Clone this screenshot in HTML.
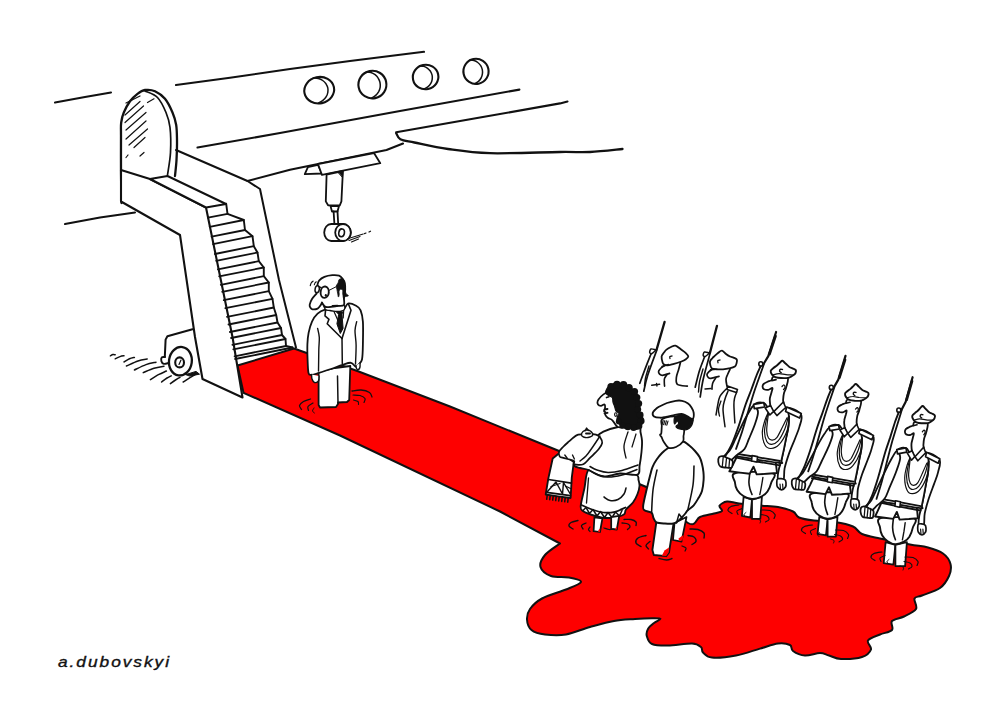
<!DOCTYPE html>
<html lang="en"><head><meta charset="utf-8"><title>Red carpet - a.dubovskyi</title>
<style>
html,body{margin:0;padding:0;background:#fff;}
body{width:1000px;height:707px;overflow:hidden;position:relative;font-family:"Liberation Sans",sans-serif;}
svg{display:block;position:absolute;left:0;top:0;}
svg path, svg ellipse, svg line{stroke-linecap:round;stroke-linejoin:round;}
.sig{position:absolute;left:58px;top:655.3px;font:italic normal 14px/1 "Liberation Sans",sans-serif;letter-spacing:1.6px;color:#111;-webkit-text-stroke:0.35px #111;white-space:nowrap;transform-origin:0 0;transform:scale(1.235,1);}
</style></head><body>
<svg width="1000" height="707" viewBox="0 0 1000 707">
<rect width="1000" height="707" fill="#fff"/>
<path d="M237.5 365.5 L294 348.5 L358 371.2 L450 406.5 L556 449.8 L650 488.5 C656.3 494.7 679.7 518.3 688 523 C696.3 527.7 695.7 518.6 700 517 C704.3 515.4 710.3 514.5 714 513.5 C717.7 512.5 721.1 512.3 722 511 C722.9 509.7 718.7 507.4 719.5 505.8 C720.3 504.2 723.8 502 727 501.6 C730.2 501.2 733.5 502.8 739 503.4 C744.5 504 753.5 504.9 760 505.5 C766.5 506.1 772.5 506 778 507 C783.5 508 789.5 509.8 793 511.5 C796.5 513.2 795.5 516 799 517.5 C802.5 519 808 519.8 814 520.5 C820 521.2 828.5 521 835 522 C841.5 523 848.5 524.5 853 526.5 C857.5 528.5 857.5 532 862 534 C866.5 536 872 536.8 880 538.5 C888 540.2 902 543 910 544.5 C918 546 922.5 546 928 547.5 C933.5 549 939.2 550.8 943 553.5 C946.8 556.2 949.5 560.2 950.5 564 C951.5 567.8 950.8 572 949 576 C947.2 580 944.5 584.8 940 588 C935.5 591.2 926.2 593.8 922 595.5 C917.8 597.2 915.5 596.2 914.5 598.5 C913.5 600.8 917.8 606 916 609 C914.2 612 908 614.5 904 616.5 C900 618.5 894 618.8 892 621 C890 623.2 894 627.8 892 630 C890 632.2 884 632.8 880 634.5 C876 636.2 869.5 638 868 640.5 C866.5 643 872 646.8 871 649.5 C870 652.2 867 655.4 862 657 C857 658.6 846.5 659.2 841 659 C835.5 658.8 832.5 656.5 829 655.5 C825.5 654.5 824 653 820 653 C816 653 809.5 655.8 805 655.5 C800.5 655.2 795.5 652.8 793 651 C790.5 649.2 792.5 646.2 790 645 C787.5 643.8 783 642.9 778 643.5 C773 644.1 767 646.6 760 648.6 C753 650.6 744 654 736 655.5 C728 657 717.5 658.1 712 657.6 C706.5 657.1 704.8 654.3 703 652.5 C701.2 650.7 702.8 648.5 701 647 C699.2 645.5 697.5 643.7 692 643.5 C686.5 643.3 674.7 645.5 668 645.6 C661.3 645.7 655.5 645.6 652 644 C648.5 642.4 647.5 638.5 646.8 636 C646.1 633.5 646.8 631.2 648 629 C649.2 626.8 651.9 624.7 654 623 C656.1 621.3 660.8 619.6 660.5 618.8 C660.2 618 656.2 618.2 652 618.2 C647.8 618.2 641.3 618.5 635 619 C628.7 619.5 621.5 619.7 614 621 C606.5 622.3 598 624.8 590 627 C582 629.2 573.5 633.2 566 634.5 C558.5 635.8 550.8 635.2 545 634.5 C539.2 633.8 534.5 632.5 531.5 630 C528.5 627.5 527.2 623 527 619.5 C526.8 616 527.5 612.5 530 609 C532.5 605.5 536 601.8 542 598.5 C548 595.2 559.5 592.2 566 589.5 C572.5 586.8 580.5 584 581 582 C581.5 580 574 578.5 569 577.5 C564 576.5 555.8 577.8 551 576 C546.2 574.2 541.5 570.5 540.5 567 C539.5 563.5 541.8 558.9 545 555 C548.2 551.1 557.5 545.4 560 543.5 L500 511.5 L340 435.5 L243.5 392.8 Z" fill="#fe0000" stroke="#111" stroke-width="2.0" />
<path d="M55 102.5 L85 97 L111 92.5" fill="none" stroke="#111" stroke-width="2.1" />
<path d="M176 85 L230 77.8 L290 69 L350 61 L424 51.8" fill="none" stroke="#111" stroke-width="2.1" />
<path d="M197.5 147.5 L280 133 L400 111 L519.4 89.6" fill="none" stroke="#111" stroke-width="2.1" />
<path d="M247.5 181 L290 169.7 L386.5 150 L403 143.6" fill="none" stroke="#111" stroke-width="2.1" />
<path d="M65 224 L100 217.5 L135 212.5" fill="none" stroke="#111" stroke-width="2.1" />
<path d="M396.2 132.2 L480 117.5 L560 103.4 L567.5 101.5" fill="none" stroke="#111" stroke-width="2.1" />
<path d="M396.2 133.2 C396.9 134.2 397.4 137.6 400.4 139.2 C403.4 140.8 406.5 140.9 414.4 142.5 C422.3 144.1 435.4 147.2 448 149 C460.6 150.8 471.3 152.7 490 153.2 C508.7 153.7 543.3 152.2 560 152 C576.7 151.8 579.6 152.5 590 152 C600.4 151.5 617.1 149.5 622.5 149" fill="none" stroke="#111" stroke-width="2.3" />
<ellipse cx="319.2" cy="90.2" rx="15" ry="13.2" fill="#fff" stroke="#111" stroke-width="2.1" transform="rotate(-12 319.2 90.2)"/>
<path d="M313.2 78 C314.1 78.1 316.7 78.1 318.3 78.5 C319.8 78.9 321.4 79.6 322.7 80.5 C324 81.4 325.1 82.6 326 83.8 C326.8 85 327.5 86.5 327.8 87.9 C328.1 89.4 328.1 91 327.8 92.5 C327.6 93.9 327 95.5 326.1 96.8 C325.3 98.1 324.2 99.4 322.9 100.4 C321.7 101.5 319.3 102.5 318.5 102.9" fill="none" stroke="#111" stroke-width="1.5" />
<ellipse cx="372.4" cy="84.6" rx="14" ry="13.8" fill="#fff" stroke="#111" stroke-width="2.1" transform="rotate(-12 372.4 84.6)"/>
<path d="M366.2 71.9 C366.9 72 369.4 72 370.9 72.5 C372.4 73 373.8 73.8 375.1 74.7 C376.3 75.7 377.4 76.9 378.2 78.2 C379.1 79.5 379.7 81 380 82.5 C380.3 84.1 380.4 85.7 380.2 87.2 C380 88.8 379.4 90.4 378.7 91.7 C377.9 93.1 376.9 94.4 375.7 95.4 C374.6 96.5 372.4 97.5 371.7 97.9" fill="none" stroke="#111" stroke-width="1.5" />
<ellipse cx="425.6" cy="77" rx="12.8" ry="12.2" fill="#fff" stroke="#111" stroke-width="2.1" transform="rotate(-12 425.6 77)"/>
<path d="M419.5 65.8 C420.2 65.9 422.4 66 423.8 66.4 C425.1 66.8 426.5 67.5 427.6 68.3 C428.7 69.1 429.7 70.2 430.5 71.3 C431.2 72.5 431.8 73.9 432.1 75.2 C432.4 76.5 432.4 78 432.2 79.3 C432 80.7 431.5 82.1 430.8 83.3 C430.1 84.5 429.2 85.7 428.1 86.6 C427 87.5 425 88.5 424.4 88.9" fill="none" stroke="#111" stroke-width="1.5" />
<ellipse cx="476" cy="71.4" rx="12.6" ry="12.6" fill="#fff" stroke="#111" stroke-width="2.1" transform="rotate(-12 476 71.4)"/>
<path d="M469.8 59.9 C470.5 60 472.7 60 474 60.5 C475.4 60.9 476.7 61.6 477.8 62.5 C478.9 63.3 479.9 64.5 480.7 65.7 C481.4 66.9 482 68.3 482.3 69.6 C482.6 71 482.6 72.5 482.4 73.9 C482.2 75.3 481.8 76.8 481.1 78 C480.4 79.2 479.5 80.4 478.5 81.4 C477.4 82.3 475.4 83.3 474.8 83.6" fill="none" stroke="#111" stroke-width="1.5" />
<path d="M304.8 174.1 L307.9 167.1 L318 164.8 L321.9 173.5Z" fill="#fff" stroke="#111" stroke-width="1.8" />
<path d="M318 164 L374 153.1 L380.3 163.2 L321.9 174.9Z" fill="#fff" stroke="#111" stroke-width="1.8" />
<path d="M326.6 174.5 L325.8 201.4 L328.1 205.3 L339.8 205.3 L341.4 201.4 L342.9 171Z" fill="#fff" stroke="#111" stroke-width="1.8" />
<path d="M338 172 L343 171 L342.5 177Z" fill="#111" stroke="#111" stroke-width="1.0" />
<path d="M330.5 206 L332 211.5 L337.5 211.5 L339 206Z" fill="#fff" stroke="#111" stroke-width="1.8" />
<path d="M333.6 211.5 L334.4 224" fill="none" stroke="#111" stroke-width="1.8" />
<path d="M337.5 211.5 L338.2 224" fill="none" stroke="#111" stroke-width="1.8" />
<path d="M331.2 224 A7 8.5 0 0 0 331.2 241 L343 241 A7.8 8.5 0 0 0 343 224 Z" fill="#fff" stroke="#111" stroke-width="1.8" />
<ellipse cx="343" cy="232.5" rx="7.8" ry="8.5" fill="#fff" stroke="#111" stroke-width="1.8"/>
<ellipse cx="341.6" cy="232.8" rx="2.8" ry="3.9" fill="#fff" stroke="#111" stroke-width="1.6" transform="rotate(10 341.6 232.8)"/>
<path d="M347.6 238.7 L363.2 234" fill="none" stroke="#111" stroke-width="1.1" />
<path d="M349 240.5 L360 236.5" fill="none" stroke="#111" stroke-width="1.1" />
<path d="M351.5 242 L358.5 239" fill="none" stroke="#111" stroke-width="1.1" />
<path d="M364.5 233.6 L366 233" fill="none" stroke="#111" stroke-width="1.2" />
<path d="M369 232 L370.5 231.2" fill="none" stroke="#111" stroke-width="1.2" />
<path d="M121.5 203 C121.4 197.5 121.1 181.3 121 170 C120.9 158.7 121 142.9 121 135 C121 127.1 120.7 126.2 121.2 122.5 C121.7 118.8 122.3 116 123.8 112.5 C125.3 109 127.7 104.3 130 101.2 C132.3 98.1 135 95.7 137.5 93.8 C140 91.9 142.1 90.4 145 90 C147.9 89.6 151.7 89.7 155 91.2 C158.3 92.7 162.1 95.2 165 98.8 C167.9 102.3 170.6 108.1 172.5 112.5 C174.4 116.9 175.4 120.4 176.2 125 C176.9 129.6 176.9 134.2 177 140 C177.1 145.8 176.8 154 176.5 160 C176.2 166 175.2 173.3 175 176" fill="none" stroke="#111" stroke-width="2.3" />
<path d="M145 91 C147.1 92.1 154 93.9 157.5 97.5 C161 101.1 163.9 107.5 166 112.5 C168.1 117.5 169.2 120.8 170 127.5 C170.8 134.2 170.9 144.6 170.5 152.5 C170.1 160.4 168 171.2 167.5 175" fill="none" stroke="#111" stroke-width="1.7" />
<path d="M126 103 L140 96" fill="none" stroke="#111" stroke-width="1.2" />
<path d="M125 115 L140 101.5" fill="none" stroke="#111" stroke-width="1.2" />
<path d="M125 122.5 L143.5 106" fill="none" stroke="#111" stroke-width="1.2" />
<path d="M126 130 L146 112.5" fill="none" stroke="#111" stroke-width="1.2" />
<path d="M126 139 L146 121" fill="none" stroke="#111" stroke-width="1.2" />
<path d="M129 145 L147.5 129" fill="none" stroke="#111" stroke-width="1.2" />
<path d="M134 147.5 L145 137.5" fill="none" stroke="#111" stroke-width="1.2" />
<path d="M126 157.5 L128 155" fill="none" stroke="#111" stroke-width="1.2" />
<path d="M140 156 L144 152.5" fill="none" stroke="#111" stroke-width="1.2" />
<path d="M147.5 102.5 L154 98.8" fill="none" stroke="#111" stroke-width="1.2" />
<path d="M176 150 L247.5 181 L260 189 L279 280 L296 347.5" fill="none" stroke="#111" stroke-width="2.0" />
<path d="M121 170 L150 179 L206 207.5 L232.5 337 L242.5 397.5 L202.5 379 L195 337 L180 235 L121 201.5Z" fill="#fff" stroke="#111" stroke-width="2.1" />
<path d="M150 179 L167.5 176 L226 204 L206 207.5Z" fill="#fff" stroke="#111" stroke-width="2.0" />
<path d="M226.2 203.8 L227.5 213.8 L243.8 220 L245 230 L252.5 236.2 L253.8 246.2 L257.5 252.5 L258.8 261.2 L263.8 267.5 L263.8 276.2 L268.8 282.5 L268.8 291.2 L272.5 298.8 L273.8 307.5 L276.2 315 L277.5 322.5 L281 328 L282 335 L285.5 339 L286 346 L292.5 347.5" fill="none" stroke="#111" stroke-width="1.9" />
<path d="M208 217.7 L227.5 213.8" fill="none" stroke="#111" stroke-width="1.8" />
<path d="M209.7 226.8 L243.8 220" fill="none" stroke="#111" stroke-width="1.8" />
<path d="M211.6 236.7 L245 230" fill="none" stroke="#111" stroke-width="1.8" />
<path d="M213 244.1 L252.5 236.2" fill="none" stroke="#111" stroke-width="1.8" />
<path d="M214.9 254 L253.8 246.2" fill="none" stroke="#111" stroke-width="1.8" />
<path d="M216.2 260.8 L257.5 252.5" fill="none" stroke="#111" stroke-width="1.8" />
<path d="M217.9 269.4 L258.8 261.2" fill="none" stroke="#111" stroke-width="1.8" />
<path d="M219.2 276.4 L263.8 267.5" fill="none" stroke="#111" stroke-width="1.8" />
<path d="M220.8 284.8 L263.8 276.2" fill="none" stroke="#111" stroke-width="1.8" />
<path d="M222.2 291.8 L268.8 282.5" fill="none" stroke="#111" stroke-width="1.8" />
<path d="M223.8 300.2 L268.8 291.2" fill="none" stroke="#111" stroke-width="1.8" />
<path d="M225.4 308.2 L272.5 298.8" fill="none" stroke="#111" stroke-width="1.8" />
<path d="M227 316.9 L273.8 307.5" fill="none" stroke="#111" stroke-width="1.8" />
<path d="M228.5 324.5 L276.2 315" fill="none" stroke="#111" stroke-width="1.8" />
<path d="M229.9 332 L277.5 322.5" fill="none" stroke="#111" stroke-width="1.8" />
<path d="M231.1 338 L281 328" fill="none" stroke="#111" stroke-width="1.8" />
<path d="M232.4 344.9 L282 335" fill="none" stroke="#111" stroke-width="1.8" />
<path d="M233.3 349.4 L285.5 339" fill="none" stroke="#111" stroke-width="1.8" />
<path d="M234.6 356.3 L286 346" fill="none" stroke="#111" stroke-width="1.8" />
<path d="M235.1 359 L292.5 347.5" fill="none" stroke="#111" stroke-width="1.8" />
<path d="M164.8 357 L165.6 339.6 L167.4 336.2 L192.5 329.2" fill="none" stroke="#111" stroke-width="2.0" />
<path d="M165 357 C164.5 357.1 162.4 356.7 161.8 357.4 C161.2 358.1 161.1 360.1 161.4 361.2 C161.7 362.3 162.6 363.5 163.8 363.8 C165 364.1 168 363.1 168.8 363" fill="none" stroke="#111" stroke-width="1.9" />
<path d="M186 374.5 L196 371.4 L199.5 374.2 L190 376Z" fill="#111" stroke="#111" stroke-width="1.0" />
<ellipse cx="180.4" cy="361.2" rx="11.4" ry="14.3" fill="#fff" stroke="#111" stroke-width="2.3" transform="rotate(8 180.4 361.2)"/>
<ellipse cx="179.6" cy="362.4" rx="4.4" ry="5" fill="#fff" stroke="#111" stroke-width="2.1"/>
<path d="M179 364.5 L181 360" fill="none" stroke="#111" stroke-width="1.2" />
<path d="M110.4 355.8 C110.8 355.6 112.2 354.8 113 354.6 C113.8 354.4 114.8 354.8 115.2 354.8" fill="none" stroke="#111" stroke-width="1.5" />
<path d="M115.2 358.8 C116 358.4 118.5 357.1 120 356.6 C121.5 356.1 123.3 355.9 124 355.8" fill="none" stroke="#111" stroke-width="1.5" />
<path d="M124 362 C124.9 361.5 127.8 359.6 129.5 358.8 C131.2 358 133.6 357.6 134.4 357.4" fill="none" stroke="#111" stroke-width="1.5" />
<path d="M126.4 366 C128.3 365.2 134.5 362.2 138 361 C141.5 359.8 145.7 359.3 147.2 359" fill="none" stroke="#111" stroke-width="1.5" />
<path d="M134.4 370 C136.3 369.1 142.4 365.9 146 364.6 C149.6 363.3 154.3 362.6 156 362.2" fill="none" stroke="#111" stroke-width="1.5" />
<path d="M143.2 372.6 C145 371.9 150.5 369.3 154 368.2 C157.5 367.1 162.3 366.5 164 366.2" fill="none" stroke="#111" stroke-width="1.5" />
<path d="M150.4 379.6 C151.8 378.7 156.3 375.8 159 374.4 C161.7 373 165.2 371.6 166.4 371" fill="none" stroke="#111" stroke-width="1.5" />
<path d="M161.6 382 C162.5 381.3 165.4 379 167 378 C168.6 377 170.5 376.2 171.2 375.8" fill="none" stroke="#111" stroke-width="1.5" />
<path d="M170.4 383.6 C171.2 383 173.9 381 175.5 380 C177.1 379 179.2 377.8 180 377.4" fill="none" stroke="#111" stroke-width="1.5" />
<path d="M183.2 382 C184.3 381.3 187.9 378.9 190 377.6 C192.1 376.3 195 374.8 196 374.2" fill="none" stroke="#111" stroke-width="1.5" />
<path d="M318.6 372 L318.6 405 L320 407.5 L336 407 L338 404 L338 402.5 L347 402 L349.2 400 L350.3 366 L335 368Z" fill="#fff" stroke="#111" stroke-width="1.8" />
<path d="M338 403 L337.5 376" fill="none" stroke="#111" stroke-width="1.5" />
<path d="M325 309.7 C322.9 310.3 319.8 311.7 317.6 313.7 C315.4 315.7 313.5 318.4 312 321.6 C310.5 324.8 309.4 329.1 308.6 332.9 C307.8 336.7 307.6 339.7 307.4 344.2 C307.2 348.7 307.4 355.2 307.6 360 C307.8 364.8 307.9 370.5 308.5 373 C309.1 375.5 309.9 374.8 311.5 374.8 C313.1 374.8 314.8 374.2 318 373.2 C321.2 372.2 326.9 370.4 331 369 C335.1 367.6 339.2 365.8 342.5 364.8 C345.8 363.8 348.8 362.5 351 362.8 C353.2 363.1 354.2 366.2 355.5 366.5 C356.8 366.8 357.4 365.7 358.5 364.5 C359.6 363.3 361.3 362.9 362 359.5 C362.7 356.1 362.8 350.5 362.9 344.2 C363 337.9 363.3 327.2 362.9 321.6 C362.5 316 361.7 313 360.6 310.3 C359.5 307.6 358.2 306.8 356.1 305.7 C354 304.6 350.2 302.9 348.2 303.5 C346.2 304.1 345.7 307.8 344 309 C342.3 310.2 340.3 310.8 338 311 C335.7 311.2 332.2 310.2 330 310 C327.8 309.8 327.1 309.1 325 309.7Z" fill="#fff" stroke="#111" stroke-width="1.8" />
<path d="M311.5 374.5 C311.6 375.2 311.5 377.7 312 379 C312.5 380.3 313.4 382.2 314.5 382.5 C315.6 382.8 317.8 382.1 318.5 381 C319.2 379.9 318.9 376.8 319 376" fill="#fff" stroke="#111" stroke-width="1.5" />
<path d="M356 365.5 C356.1 366 356.1 367.8 356.5 368.5 C356.9 369.2 357.9 369.8 358.5 369.5 C359.1 369.2 359.8 368.1 360 367 C360.2 365.9 360 363.7 360 363" fill="#fff" stroke="#111" stroke-width="1.4" />
<path d="M317.6 328.4 C317.9 329.9 319.1 333.8 319.3 337.4 C319.5 341 318.9 344.4 318.8 350 C318.7 355.6 318.6 367.5 318.5 371" fill="none" stroke="#111" stroke-width="1.4" />
<path d="M356.7 321.6 C356.4 323.1 355.1 326.7 355 330.6 C354.9 334.5 356 339.4 356.1 345 C356.2 350.6 355.6 360.8 355.5 364" fill="none" stroke="#111" stroke-width="1.4" />
<path d="M325.6 309.7 L325 315.9 L329 319.3 L327.2 323.8 L342 338.5" fill="none" stroke="#111" stroke-width="1.6" />
<path d="M348.2 303.5 L351 310.3 L342 338.5" fill="none" stroke="#111" stroke-width="1.6" />
<path d="M342 338.5 L342.3 363.5" fill="none" stroke="#111" stroke-width="1.5" />
<path d="M334 311.5 L337.5 319.5" fill="none" stroke="#111" stroke-width="1.2" />
<path d="M343.7 310.5 L343.2 318" fill="none" stroke="#111" stroke-width="1.2" />
<path d="M336.9 312 L342.5 312 L342 314.8 L343.1 328.4 L340.3 333.5 L336.9 323.8 L338.6 314.8Z" fill="#111" stroke="#111" stroke-width="1.0" />
<path d="M322.2 302 C321.8 301.2 322.9 304.2 323.5 305 C324.1 305.8 324.1 306.6 325.6 306.9 C327.1 307.2 330.2 306.8 332.3 306.6 C334.4 306.4 336.1 306.2 338 305.9 C339.9 305.6 342.9 304.4 343.9 305 C344.9 305.6 345.2 308.6 344.2 309.7 C343.2 310.8 340.4 311.4 338 311.5 C335.6 311.6 332.1 310.8 330 310.5 C327.9 310.2 326.9 310.9 325.6 309.5 C324.3 308.1 322.6 302.8 322.2 302Z" fill="#fff" stroke="#111" stroke-width="1.3" />
<path d="M317.6 288 C317.6 287.4 317.3 285.5 317.6 284.2 C317.9 282.9 318.2 281.5 319.3 280.3 C320.4 279.1 322.2 277.8 324.4 276.9 C326.6 276 329.9 275.4 332.3 275.2 C334.8 275 337.4 275.1 339.1 275.7 C340.8 276.3 341.6 277.4 342.5 278.6 C343.4 279.8 344.4 281.2 344.8 283.1 C345.2 285 345.3 287.5 345.2 290 C345.1 292.5 344.2 295.5 344 298 C343.8 300.5 344.9 303.7 343.9 305 C342.9 306.3 339.9 305.6 338 305.9 C336.1 306.2 334.4 306.4 332.3 306.6 C330.2 306.8 327.3 307.5 325.6 306.9 C323.9 306.3 322.8 303.6 322.2 303" fill="#fff" stroke="#111" stroke-width="1.8" />
<path d="M332.5 305.8 L337.5 305.5" fill="none" stroke="#111" stroke-width="1.6" />
<path d="M339.1 279.7 C339.9 278.9 341.6 278 342.5 278.6 C343.4 279.2 344.4 281.6 344.8 283.1 C345.2 284.6 344.8 285.9 345 287.6 C345.2 289.3 345.3 291.9 345.9 293.3 C346.5 294.7 348.6 295.2 348.4 295.8 C348.2 296.4 345.6 296.3 344.8 296.9 C344 297.5 344 299.7 343.7 299.2 C343.4 298.7 343 295.5 342.8 294 C342.6 292.5 343 290.8 342.6 290 C342.2 289.2 341.1 289 340.5 289.2 C339.9 289.4 339.2 290.1 339 291 C338.8 291.9 339.3 293.5 339.2 294.5 C339.1 295.5 338.7 297.2 338.4 297 C338.1 296.8 337.9 294.6 337.6 293.3 C337.4 292 337.1 290.5 336.9 289.3 C336.7 288.1 336.1 286.9 336.3 285.9 C336.5 284.9 337.5 284.1 338 283.1 C338.5 282.1 338.4 280.4 339.1 279.7Z" fill="#111" stroke="#111" stroke-width="0.8" />
<path d="M316.5 293.6 C315.8 294.5 313.1 297.2 312 299 C310.9 300.8 310 303.2 309.7 304.6 C309.4 306 309.8 306.8 310.3 307.6 C310.8 308.4 311.3 309.1 312.5 309.3 C313.7 309.5 316.3 309.2 317.6 308.6 C318.9 308 319.7 306.5 320.4 305.5 C321.1 304.5 321.7 303 322 302.5" fill="#fff" stroke="#111" stroke-width="1.8" />
<ellipse cx="317.2" cy="289.3" rx="2.1" ry="3.5" fill="#fff" stroke="#111" stroke-width="1.5" transform="rotate(10 317.2 289.3)"/>
<ellipse cx="324.7" cy="292.2" rx="4.1" ry="5.7" fill="#fff" stroke="#111" stroke-width="1.9" transform="rotate(5 324.7 292.2)"/>
<path d="M319 287 L321 287.5" fill="none" stroke="#111" stroke-width="1.3" />
<path d="M328.6 290.6 L336 286.8" fill="none" stroke="#111" stroke-width="1.0" />
<ellipse cx="325.8" cy="295.4" rx="1.1" ry="1.3" fill="#111"/>
<path d="M310.3 285.6 C310.4 285.2 310.7 283.7 311.2 283 C311.7 282.3 312.8 281.5 313.1 281.2" fill="none" stroke="#111" stroke-width="1.2" />
<path d="M314.3 284.8 C314.4 284.5 314.7 283.5 315 283 C315.3 282.5 316.1 282 316.3 281.8" fill="none" stroke="#111" stroke-width="1.1" />
<path d="M310.5 399 C309.3 399.4 305.3 400.4 303.5 401.5 C301.7 402.6 299.8 404.2 299.5 405.5 C299.2 406.8 301.2 408.8 301.5 409.5" fill="none" stroke="#111" stroke-width="1.3" />
<path d="M313 403 C312.2 403.6 308.8 405.2 308 406.5 C307.2 407.8 308.4 409.8 308.5 410.5" fill="none" stroke="#111" stroke-width="1.2" />
<path d="M314 408 C313.8 408.5 312.4 410.2 312.5 411 C312.6 411.8 314.2 412.7 314.5 413" fill="none" stroke="#111" stroke-width="1.0" />
<path d="M352 391 C353.5 390.8 358.1 389.8 361 390 C363.9 390.2 367.7 391.3 369.5 392.5 C371.3 393.7 371.6 396.2 372 397" fill="none" stroke="#111" stroke-width="1.3" />
<path d="M353 395 C354.2 395.1 358 394.9 360 395.5 C362 396.1 364.3 397.3 365 398.5 C365.7 399.7 364.2 401.8 364 402.5" fill="none" stroke="#111" stroke-width="1.2" />
<path d="M353.5 400 C354.2 400.2 357.2 400.8 358 401.5 C358.8 402.2 358.4 404 358.5 404.5" fill="none" stroke="#111" stroke-width="1.1" />
<path d="M560 452.5 L552.7 458.5 L548.3 478.6 L545.7 494.5 L558 496.3 L570.6 498 L571.8 477.3 L573.8 462Z" fill="#fff" stroke="#111" stroke-width="1.85" />
<path d="M548.6 479.5 L571.3 483.2" fill="none" stroke="#111" stroke-width="1.75" />
<path d="M546.6 492.3 L570.4 495.6" fill="none" stroke="#111" stroke-width="1.75" />
<path d="M547.5 491.5 L556 482 L562.5 494 L563.5 482.5 L570 493.5" fill="none" stroke="#111" stroke-width="1.45" />
<path d="M551 486.5 L560 483.5" fill="none" stroke="#111" stroke-width="1.25" />
<path d="M565.5 486 L570.5 488.5" fill="none" stroke="#111" stroke-width="1.25" />
<path d="M547.2 495.3 L546.7 499.3" fill="none" stroke="#111" stroke-width="1.55" />
<path d="M550.2 495.7 L549.7 499.7" fill="none" stroke="#111" stroke-width="1.55" />
<path d="M553.2 496.1 L552.7 500.1" fill="none" stroke="#111" stroke-width="1.55" />
<path d="M556.2 496.6 L555.7 500.6" fill="none" stroke="#111" stroke-width="1.55" />
<path d="M559.2 497 L558.7 501" fill="none" stroke="#111" stroke-width="1.55" />
<path d="M562.2 497.4 L561.7 501.4" fill="none" stroke="#111" stroke-width="1.55" />
<path d="M565.2 497.8 L564.7 501.8" fill="none" stroke="#111" stroke-width="1.55" />
<path d="M568.2 498.2 L567.7 502.2" fill="none" stroke="#111" stroke-width="1.55" />
<path d="M588.7 470 C585.6 472 585.8 482 584.5 488 C583.2 494 581 502.2 580.7 506 C580.5 509.8 581.1 509.5 583 511 C584.9 512.5 588.6 513.9 592 515 C595.4 516.1 599.7 517.4 603.4 517.8 C607.1 518.2 610.6 518 614 517.5 C617.4 517 621.8 515.8 623.8 514.5 C625.8 513.2 624.5 511.5 626 509.5 C627.5 507.5 631.1 505.1 633 502.5 C634.9 499.9 636.4 496.8 637.5 494 C638.6 491.2 639.3 488.3 639.5 486 C639.7 483.7 639 481.8 638.5 480 C638 478.2 639.6 476.2 636.5 475 C633.4 473.8 625.6 472.8 620 473 C614.4 473.2 608.2 476.5 603 476 C597.8 475.5 591.8 468 588.7 470Z" fill="#fff" stroke="#111" stroke-width="1.85" />
<path d="M581.5 505 C583.2 505.8 588.4 508.2 592 509.5 C595.6 510.8 599.6 512.1 603.4 512.5 C607.2 512.9 611.3 512.6 615 511.8 C618.7 511 623.8 508.2 625.5 507.5" fill="none" stroke="#111" stroke-width="1.75" />
<path d="M583 510.5 L586 507.5 L589.5 513.5 L593 509.5 L597 516 L600.5 511.5 L604.5 517.5 L608 512.5 L612 517.5 L615.5 512 L619.5 516 L622 510.5" fill="none" stroke="#111" stroke-width="1.5" />
<path d="M604 497 C605 497.6 607.7 500.1 610 500.5 C612.3 500.9 615.7 500.6 618 499.5 C620.3 498.4 622.7 495.9 624 494 C625.3 492.1 625.7 489 626 488" fill="none" stroke="#111" stroke-width="1.55" />
<path d="M588.5 478 L586.5 503" fill="none" stroke="#111" stroke-width="1.35" />
<path d="M594.4 517.5 L593.6 531.2 L600 532 L602.4 518.4Z" fill="#fff" stroke="#111" stroke-width="1.75" />
<path d="M611.2 517.2 L611.2 528.8 L616.8 529.6 L619.2 515.8Z" fill="#fff" stroke="#111" stroke-width="1.75" />
<path d="M598.5 530 L600.2 528.5 L600 532 L598 531.8Z" fill="#fe0000" stroke="none" stroke-width="0" />
<path d="M615.5 528 L617.2 526.5 L616.8 529.6 L615 529.4Z" fill="#fe0000" stroke="none" stroke-width="0" />
<path d="M618 427 C613.6 427.9 607.4 429.7 603.4 431.6 C599.4 433.5 597.4 435.5 594.3 438.4 C591.2 441.3 587.9 445.7 585 449 C582.1 452.3 578.8 455.8 577 458 C575.2 460.2 574.4 460.7 574 462 C573.6 463.3 573.5 465 574.5 466 C575.5 467 577.6 467.3 580 468 C582.4 468.7 584.9 468.6 588.7 470 C592.5 471.4 597.8 475.9 603 476.5 C608.2 477.1 614.3 473.8 620 473.5 C625.7 473.2 634.1 475.9 637.4 474.6 C640.7 473.3 638.9 469.3 639.6 465.5 C640.3 461.7 641.1 456.1 641.5 452 C641.9 447.9 642.2 443.9 642 440.6 C641.8 437.3 640.9 434.3 640.5 432 C640.1 429.7 641.4 427.9 639.6 427 C637.9 426.1 633.6 426.5 630 426.5 C626.4 426.5 622.4 426.1 618 427Z" fill="#fff" stroke="#111" stroke-width="1.85" />
<path d="M588.7 470 C589.9 470.7 592.8 472.8 596 474 C599.2 475.2 603.6 476.8 607.9 477 C612.2 477.2 617.1 476.2 622 475 C626.9 473.8 634.5 470.4 637 469.5" fill="none" stroke="#111" stroke-width="1.55" />
<path d="M590 466.5 C591.2 467.1 594 469 597 470 C600 471 603.8 472.4 608 472.5 C612.2 472.6 617 471.8 622 470.5 C627 469.2 635.3 465.9 638 465" fill="none" stroke="#111" stroke-width="1.55" />
<path d="M559.1 451.8 C559.7 450.1 561.9 448.2 563.5 446.5 C565.1 444.8 567 443.2 568.7 441.7 C570.4 440.2 571.9 438.7 573.5 437.5 C575.1 436.3 576.1 435.2 578.2 434.6 C580.3 434 583 434 586 434 C589 434 593.6 433.9 596 434.6 C598.4 435.3 599.5 436.6 600.5 438 C601.5 439.4 602.5 441 602.2 442.9 C601.9 444.8 600.7 446.8 598.6 449.3 C596.5 451.9 592.2 455.7 589.7 458.2 C587.2 460.7 585.8 463.2 583.3 464.2 C580.8 465.2 576 464.8 574.4 464.2 C572.8 463.6 575.5 461.8 573.8 460.8 C572.1 459.8 566.6 458.9 564.2 458.2 C561.9 457.5 560.6 457.6 559.7 456.5 C558.9 455.4 558.5 453.5 559.1 451.8Z" fill="#fff" stroke="#111" stroke-width="1.75" />
<path d="M564.8 455 L567.4 458.4" fill="none" stroke="#111" stroke-width="1.35" />
<path d="M572.5 455 L574.4 459" fill="none" stroke="#111" stroke-width="1.35" />
<path d="M581.5 435 C581.4 434.1 582.1 432.3 583 431.5 C583.9 430.7 585.7 430 587 430 C588.3 430 590.1 430.6 591 431.5 C591.9 432.4 593 434.5 592.5 435.5 C592 436.5 589.5 437.2 588 437.5 C586.5 437.8 584.6 437.4 583.5 437 C582.4 436.6 581.6 435.9 581.5 435Z" fill="#fff" stroke="#111" stroke-width="1.45" />
<path d="M585 431 L586.5 428 L588.5 430.5" fill="none" stroke="#111" stroke-width="1.25" />
<path d="M586 433.5 L590 433.5" fill="none" stroke="#111" stroke-width="1.85" />
<path d="M600 436 C598.7 438 594.3 444.7 592 448 C589.7 451.3 588 453.8 586 456 C584 458.2 581 460.2 580 461" fill="none" stroke="#111" stroke-width="1.45" />
<path d="M628 432 C627.3 434.3 624.3 441.7 624 446 C623.7 450.3 625.7 456 626 458" fill="none" stroke="#111" stroke-width="1.35" />
<path d="M636 434 L632 447" fill="none" stroke="#111" stroke-width="1.25" />
<path d="M605.6 393 C603.8 393.8 602.3 395.2 601 396.5 C599.7 397.8 598.2 399.7 597.7 401 C597.2 402.3 597.5 403.7 598 404.5 C598.5 405.3 599.9 405.8 601 405.8 C602.1 405.8 603.8 403.9 604.5 404.4 C605.2 404.8 605.1 407.4 605 408.5 C604.9 409.6 603.9 410.4 604 411 C604.1 411.6 605.4 411.8 605.6 412.4 C605.8 413 604.8 413.7 605.2 414.6 C605.6 415.5 606.8 417.1 608 418 C609.2 418.9 610.7 418.8 612.4 420.3 C614.1 421.8 615.7 426.4 618 427 C620.3 427.6 625.3 428.5 626 424 C626.7 419.5 624.3 405.3 622 400 C619.7 394.7 614.7 393.2 612 392 C609.3 390.8 607.4 392.2 605.6 393Z" fill="#fff" stroke="#111" stroke-width="1.75" />
<path d="M604.5 409.5 L607.5 409" fill="none" stroke="#111" stroke-width="1.85" />
<path d="M604.5 413.3 L607.5 412.8" fill="none" stroke="#111" stroke-width="1.85" />
<path d="M605.6 393 C605.3 391.8 606.3 389.7 607 388.5 C607.7 387.3 608.7 386.9 610 386 C611.3 385.1 613.1 383.6 615 383.2 C616.9 382.8 619.7 383.2 621.5 383.5 C623.3 383.8 624.5 384.3 626 385.2 C627.5 386.1 629 387.7 630.5 388.6 C632 389.5 633.8 389.4 635 390.5 C636.2 391.6 637 393.4 637.5 395 C638 396.6 637.7 398.4 638.2 400 C638.7 401.6 640.6 402.9 640.6 404.4 C640.6 405.9 638.6 407.5 638.5 409 C638.4 410.5 639.3 412.2 640 413.5 C640.7 414.8 642 415.8 642.5 417 C643 418.2 643.2 419.7 643 421 C642.8 422.3 642.1 423.8 641.5 425 C640.9 426.2 640.7 427.2 639.6 428 C638.5 428.8 636.5 429.5 635 429.5 C633.5 429.5 632 428.3 630.5 428.2 C629 428.1 627.5 429.2 626 428.8 C624.5 428.4 622.8 427 621.5 426 C620.2 425 619.2 424 618.5 423 C617.8 422 617.2 421.1 617 420 C616.8 418.9 617.2 417.6 617.5 416.5 C617.8 415.4 619.2 414.4 619 413.5 C618.8 412.6 616.7 412.1 616 411 C615.3 409.9 615.2 408.2 614.7 406.7 C614.2 405.2 613.4 403.5 613 402 C612.6 400.5 613.1 398.7 612.4 397.6 C611.7 396.5 610.1 396.4 609 395.6 C607.9 394.8 605.9 394.2 605.6 393Z" fill="#111" stroke="#111" stroke-width="1.25" />
<circle cx="611" cy="386.5" r="3.6" fill="#111"/>
<circle cx="617" cy="384.5" r="3.8" fill="#111"/>
<circle cx="623.5" cy="384.8" r="3.8" fill="#111"/>
<circle cx="629" cy="387.8" r="3.8" fill="#111"/>
<circle cx="634.5" cy="391.5" r="3.6" fill="#111"/>
<circle cx="636.8" cy="397.5" r="3.6" fill="#111"/>
<circle cx="638.6" cy="403.5" r="3.6" fill="#111"/>
<circle cx="637.8" cy="409.5" r="3.4" fill="#111"/>
<circle cx="640.2" cy="415" r="3.4" fill="#111"/>
<circle cx="641.2" cy="421" r="3.4" fill="#111"/>
<circle cx="639" cy="426" r="3.4" fill="#111"/>
<circle cx="633.5" cy="427.5" r="3.4" fill="#111"/>
<circle cx="628" cy="427" r="3.2" fill="#111"/>
<circle cx="622.5" cy="425.5" r="3.2" fill="#111"/>
<circle cx="618.8" cy="421.5" r="3" fill="#111"/>
<ellipse cx="615.8" cy="414.5" rx="1.2" ry="1.8" fill="#fff" stroke="#111" stroke-width="1.15"/>
<path d="M606.5 397.6 L609 396.8" fill="none" stroke="#111" stroke-width="1.55" />
<path d="M578 520.5 C576.8 520.8 572.5 521.6 571 522.5 C569.5 523.4 568.7 524.9 569 526 C569.3 527.1 572.3 528.5 573 529" fill="none" stroke="#111" stroke-width="1.35" />
<path d="M586 523 C585.2 523.4 582 524.5 581.5 525.5 C581 526.5 582.8 528.4 583 529" fill="none" stroke="#111" stroke-width="1.35" />
<path d="M590 527 C589.8 527.4 588.5 528.8 588.5 529.5 C588.5 530.2 589.8 531.2 590 531.5" fill="none" stroke="#111" stroke-width="1.25" />
<path d="M624 519.5 C625.2 519.5 629 519.1 631 519.5 C633 519.9 635.2 521 636 522 C636.8 523 636 524.9 636 525.5" fill="none" stroke="#111" stroke-width="1.35" />
<path d="M622 523 C623 523.2 626.7 523.3 628 524 C629.3 524.7 630.1 526.1 630 527 C629.9 527.9 627.9 529.1 627.5 529.5" fill="none" stroke="#111" stroke-width="1.35" />
<path d="M604 528 C604.8 528.2 607.3 529.3 609 529.5 C610.7 529.7 613.2 529.1 614 529" fill="none" stroke="#111" stroke-width="1.25" />
<path d="M656.5 521 L652.4 550 L653.8 555 L666.2 556.2 L669 552.5 L673.8 522Z" fill="#fff" stroke="#111" stroke-width="1.85" />
<path d="M674.5 523 L673 540 L681.5 541.6 L686.5 517Z" fill="#fff" stroke="#111" stroke-width="1.75" />
<path d="M668.5 447.7 C666.2 449.2 664 451 662 453 C660 455 658.1 457.4 656.5 459.7 C654.9 462 653.5 464.6 652.5 467 C651.5 469.4 651.4 470.4 650.4 474.2 C649.4 478 647.7 484.8 646.5 490 C645.3 495.2 643.6 502 643.2 505.4 C642.9 508.8 643 509.1 644.4 510.3 C645.8 511.5 650.1 511.4 651.6 512.7 C653.1 514 652.7 516.4 653.5 518 C654.3 519.6 654.6 521.4 656.5 522.3 C658.4 523.2 662.2 523.3 665 523.5 C667.8 523.7 671.1 523.9 673.3 523.5 C675.5 523.1 676.6 522 678 521 C679.4 520 680.5 518.8 681.7 517.5 C682.9 516.2 684.3 514.7 685.3 513.5 C686.3 512.3 686.3 511.7 687.7 510.3 C689.1 508.9 691.9 507.4 693.7 505.4 C695.5 503.3 697.1 500.4 698.5 498 C699.9 495.6 701.1 494 702 491 C702.9 488 703.4 483.2 703.6 480 C703.8 476.8 703.7 474.5 703.4 471.8 C703.1 469.1 702.6 466.4 702 464 C701.4 461.6 700.9 459.5 699.7 457.3 C698.5 455.1 696.8 453 695 451 C693.2 449 691 446.9 689 445.3 C687 443.7 685.2 441.7 683 441.5 C680.8 441.3 678.4 443 676 444 C673.6 445 670.8 446.2 668.5 447.7Z" fill="#fff" stroke="#111" stroke-width="1.95" />
<path d="M657 470 C656.3 473.3 653.9 482.9 653 490 C652.1 497.1 651.8 508.9 651.6 512.7" fill="none" stroke="#111" stroke-width="1.55" />
<path d="M694 466 C693.8 469.2 694 477.6 693 485 C692 492.4 688.6 506.1 687.7 510.3" fill="none" stroke="#111" stroke-width="1.55" />
<path d="M676.5 523 L679 514 L681.7 517.5" fill="none" stroke="#111" stroke-width="1.45" />
<path d="M662.5 418.9 C659.8 420.4 662 423.6 661.8 426 C661.6 428.4 661.6 431.8 661.3 433.3 C661 434.8 660 434.2 660 434.8 C660 435.4 660.9 435.9 661.5 437 C662.1 438.1 662.5 439.9 663.7 441.7 C664.9 443.5 666.5 446.8 668.5 447.7 C670.5 448.6 673.6 448 676 447 C678.4 446 681.8 443.3 683 441.5 C684.2 439.7 683.3 438.1 683.5 436 C683.7 433.9 684.9 432.2 684 429 C683.1 425.8 681.6 418.7 678 417 C674.4 415.3 665.2 417.4 662.5 418.9Z" fill="#fff" stroke="#111" stroke-width="1.75" />
<path d="M674.5 417.7 C675.1 416.3 676.8 416.1 678 415.5 C679.2 414.9 680 413.9 681.7 414 C683.4 414.1 686.1 415.2 688 416 C689.9 416.8 692.2 417.7 693 418.9 C693.8 420.1 692.8 421.8 692.5 423 C692.2 424.2 691.9 425.1 691.3 426 C690.7 426.9 689.8 427.9 689 428.5 C688.2 429.1 687.7 429.5 686.5 429.7 C685.3 429.9 683.4 429.7 682 429.5 C680.6 429.3 679 429 678 428.5 C677 428 675.9 427.2 676 426.5 C676.1 425.8 678.2 424.9 678.5 424 C678.8 423.1 678.2 421.1 677.5 421 C676.8 420.9 675 424.2 674.5 423.7 C674 423.1 673.9 419.1 674.5 417.7Z" fill="#111" stroke="#111" stroke-width="1.25" />
<path d="M652.8 412.8 C653 411.6 654.5 410.3 655.5 409.3 C656.5 408.3 657 407.9 658.9 406.8 C660.8 405.8 664.2 404 667 403 C669.8 402 673.2 401.2 675.7 400.8 C678.2 400.4 680 400.4 682 400.8 C684 401.2 686.1 402.1 687.7 403.2 C689.3 404.3 690.5 405.9 691.5 407.5 C692.5 409.1 693.5 410.9 693.7 412.8 C693.9 414.7 693.6 418.4 692.5 418.9 C691.4 419.4 688.8 416.8 687 416 C685.2 415.2 684 414.1 681.7 414 C679.4 413.9 675.9 414.8 673.3 415.3 C670.7 415.8 668.2 416.4 666 416.8 C663.8 417.2 662 417.8 660 417.7 C658 417.6 655.2 417.3 654 416.5 C652.8 415.7 652.5 414 652.8 412.8Z" fill="#fff" stroke="#111" stroke-width="1.85" />
<path d="M663.2 420.5 L662 424.5" fill="none" stroke="#111" stroke-width="1.15" />
<path d="M664.8 420.7 L663.6 424.7" fill="none" stroke="#111" stroke-width="1.15" />
<path d="M666.4 420.9 L665.2 424.9" fill="none" stroke="#111" stroke-width="1.15" />
<path d="M668 421.1 L666.8 425.1" fill="none" stroke="#111" stroke-width="1.15" />
<path d="M646 535.5 C644.7 535.9 639.7 536.8 638 538 C636.3 539.2 635.5 541.6 636 543 C636.5 544.4 640.2 545.9 641 546.5" fill="none" stroke="#111" stroke-width="1.45" />
<path d="M650 541.5 C649.3 542.2 646.2 544.2 646 545.5 C645.8 546.8 648.1 548.4 648.5 549" fill="none" stroke="#111" stroke-width="1.35" />
<path d="M659 558.5 C660.2 558.8 664.3 560 666.5 560 C668.7 560 671.1 558.8 672 558.5" fill="none" stroke="#111" stroke-width="1.35" />
<path d="M690 529 C691.3 529.1 695.7 528.8 698 529.5 C700.3 530.2 703 531.6 704 533 C705 534.4 704 537.2 704 538" fill="none" stroke="#111" stroke-width="1.45" />
<path d="M688 535.5 C689 535.8 692.7 536 694 537 C695.3 538 696.3 540.2 696 541.5 C695.7 542.8 692.7 544 692 544.5" fill="none" stroke="#111" stroke-width="1.35" />
<path d="M682 546 C682.7 546.3 685.5 547.2 686 548 C686.5 548.8 685.2 550.5 685 551" fill="none" stroke="#111" stroke-width="1.25" />
<path d="M664.5 550.5 L669 547.5 L668.6 552.5 L666.2 556 L661.8 555.8Z" fill="#fe0000" stroke="none" stroke-width="0" />
<path d="M678.5 538.5 L683.5 535 L682.5 540.5 L679 541Z" fill="#fe0000" stroke="none" stroke-width="0" />
<path d="M664.6 321.9 L656.6 349.6" fill="none" stroke="#111" stroke-width="2.3" />
<path d="M656.6 349.6 C655.8 350.2 653.1 353 652 353.5 C650.9 354 649.9 353.4 649.7 352.6 C649.5 351.9 650 349.5 651 349 C652 348.5 654.8 349.7 655.5 349.8" fill="none" stroke="#111" stroke-width="1.5" />
<path d="M651 354 C650.1 356.2 647.6 362.5 645.7 367.4 C643.8 372.3 640.8 380.6 639.8 383.3" fill="none" stroke="#111" stroke-width="1.7" />
<path d="M656.6 350.6 C655.1 354.7 649.8 368.5 647.7 375.3 C645.6 382.1 644.4 388.6 643.8 391.2" fill="none" stroke="#111" stroke-width="1.7" />
<path d="M649 366 C648.4 368 646.2 374.7 645.5 378 C644.8 381.3 644.7 384.7 644.5 386" fill="none" stroke="#111" stroke-width="1.4" />
<path d="M661.6 356.5 C661.8 354.8 663.2 353.6 664 352.5 C664.8 351.4 665.3 350.5 666.5 349.6 C667.7 348.7 669.5 347.7 671 347 C672.5 346.3 673.8 345.3 675.4 345.6 C677 345.9 678.9 347.8 680.5 349 C682.1 350.2 684 351.4 685.3 352.6 C686.6 353.9 688.3 355.4 688.3 356.5 C688.3 357.6 686.6 358.7 685.5 359.5 C684.4 360.3 683.3 360.8 681.4 361.5 C679.5 362.2 676.3 363.2 674 363.8 C671.7 364.4 669.1 365.3 667.5 365.4 C665.9 365.5 665 365.1 664.2 364.6 C663.4 364.1 663 363.9 662.6 362.5 C662.2 361.1 661.4 358.2 661.6 356.5Z" fill="#fff" stroke="#111" stroke-width="1.8" />
<path d="M672 356 C671.6 356.1 670.1 356.2 669.8 356.6 C669.5 357 670 358.3 670 358.6" fill="none" stroke="#111" stroke-width="1.3" />
<path d="M664.6 365.4 C664 365.8 662 367 661 368 C660 369 658.8 370.4 658.6 371.4 C658.4 372.4 658.9 373.5 659.6 374.2 C660.3 374.9 661 375.4 662.6 375.3 C664.2 375.2 668.4 373.7 669.5 373.4" fill="none" stroke="#111" stroke-width="1.7" />
<path d="M662 366.5 L668.5 364.5" fill="none" stroke="#111" stroke-width="1.5" />
<path d="M667 374.5 C666.6 375.1 665.1 377.1 664.6 378.3 C664.1 379.6 664.3 380.7 664.3 382 C664.3 383.3 664.5 385.5 664.6 386.2" fill="none" stroke="#111" stroke-width="1.6" />
<path d="M680.4 362.5 C680.1 363.8 679.2 367.5 678.5 370 C677.8 372.5 676.6 374.9 676.4 377.3 C676.2 379.7 675.6 382.8 677.4 384.3 C679.2 385.8 685.6 385.9 687.3 386.2" fill="none" stroke="#111" stroke-width="1.7" />
<path d="M651.7 385.2 L659.6 384.3" fill="none" stroke="#111" stroke-width="1.5" />
<path d="M656.5 383.5 L657 386" fill="none" stroke="#111" stroke-width="1.3" />
<path d="M717 325.8 L710 352.6" fill="none" stroke="#111" stroke-width="2.3" />
<path d="M710 352.6 C709.2 353.2 706.6 355.9 705.5 356.4 C704.4 356.9 703.4 356.2 703.2 355.5 C703 354.8 703.5 352.4 704.5 352 C705.5 351.6 708.2 352.7 709 352.8" fill="none" stroke="#111" stroke-width="1.5" />
<path d="M704.5 357 C703.6 359.4 700.8 366.4 699.2 371.4 C697.7 376.4 695.9 384.6 695.2 387.2" fill="none" stroke="#111" stroke-width="1.7" />
<path d="M710 353.6 C708.9 357.9 704.8 372.1 703.2 379.3 C701.6 386.5 700.7 394.1 700.2 397" fill="none" stroke="#111" stroke-width="1.7" />
<path d="M703 369 C702.4 371.2 700.2 378.2 699.5 382 C698.8 385.8 698.7 390.3 698.5 392" fill="none" stroke="#111" stroke-width="1.4" />
<path d="M710 361.5 C710.3 360.4 711.3 359.4 712 358.6 C712.7 357.8 713 357.4 714 356.5 C715 355.6 716.7 354 718 353 C719.3 352 720.7 350.4 722 350.6 C723.3 350.8 724.7 353 726 354 C727.3 355 728.8 355.9 730 356.5 C731.2 357.1 732.4 357.1 733.5 357.6 C734.6 358.1 736.3 358.6 736.8 359.5 C737.3 360.4 736.9 361.9 736.6 363 C736.3 364.1 736.2 365.5 734.9 366.4 C733.6 367.3 731 367.9 729 368.4 C727 368.9 725 369.2 723 369.4 C721 369.5 718.8 369.5 717 369.3 C715.2 369.1 713.1 369.1 712 368.4 C710.9 367.7 710.6 366.1 710.3 365 C710 363.9 709.7 362.6 710 361.5Z" fill="#fff" stroke="#111" stroke-width="1.8" />
<path d="M720 360 C719.6 360.1 718.1 360.1 717.8 360.6 C717.5 361.1 718 362.4 718 362.8" fill="none" stroke="#111" stroke-width="1.3" />
<path d="M712 369.4 C711.5 369.8 709.8 370.8 709 371.6 C708.2 372.4 707.1 373.4 707 374.4 C706.9 375.4 707.5 376.8 708.2 377.4 C708.9 378 709.2 378.5 711 378.3 C712.8 378.1 717.7 376.6 719 376.3" fill="none" stroke="#111" stroke-width="1.7" />
<path d="M710.5 369.8 L717 369.3" fill="none" stroke="#111" stroke-width="1.5" />
<path d="M716 377.5 C715.5 378.3 713.6 381 713 382.3 C712.4 383.6 712.4 384.4 712.2 385.5 C712 386.6 712 388.6 712 389.2" fill="none" stroke="#111" stroke-width="1.6" />
<path d="M730 369.4 C729.6 370.2 728.3 372.9 727.6 374.5 C726.9 376.1 726.1 377.4 726 379.3 C725.9 381.2 726.8 385.1 727 386.2" fill="none" stroke="#111" stroke-width="1.7" />
<path d="M727.5 386 L737.5 389.5 L736.4 392.5 L727 389.5Z" fill="#fff" stroke="#111" stroke-width="1.5" />
<path d="M705 389 L711 388.5" fill="none" stroke="#111" stroke-width="1.4" />
<path d="M727 388.2 C726.2 389.1 723.3 391.7 722 393.5 C720.7 395.3 720 395.4 719 399 C718 402.6 716.5 412.3 716 415" fill="none" stroke="#111" stroke-width="1.5" />
<path d="M728 391.2 C727.5 392.5 725.8 396 725 399 C724.2 402 723 404.4 723 409 C723 413.6 724.7 423.8 725 426.8" fill="none" stroke="#111" stroke-width="1.5" />
<path d="M736.8 392 C736.4 393 735.1 395.8 734.6 398 C734.1 400.2 733.9 400.9 733.9 405 C733.9 409.1 734.7 419.9 734.9 422.9" fill="none" stroke="#111" stroke-width="1.5" />
<path d="M721 401 C720.6 402.3 718.8 406.5 718.5 409 C718.2 411.5 719.3 414.8 719.5 416" fill="none" stroke="#111" stroke-width="1.3" />
<path d="M743.6 497 L741.9 515.9 L750.3 517.5 L752 499.6Z" fill="#fff" stroke="#111" stroke-width="1.8" />
<path d="M752 499.6 L752 518.9 L760.3 518.9 L761.9 497Z" fill="#fff" stroke="#111" stroke-width="1.8" />
<path d="M735.7 473 C729.5 474.5 734.6 479.4 734.9 482.2 C735.1 485 735.8 487.7 737.2 490 C738.6 492.3 740.9 494.5 743.4 496 C745.9 497.5 749 498.9 752 499 C755 499.1 758.9 497.8 761.5 496.5 C764.1 495.2 765.9 493.9 767.5 491.5 C769.1 489.1 770.6 485.3 771.4 482.2 C772.2 479.1 778.2 474.5 772.2 473 C766.2 471.5 741.9 471.5 735.7 473Z" fill="#fff" stroke="#111" stroke-width="1.9" />
<path d="M749.7 474 C749.6 475.4 748.9 479.7 748.9 482.2 C748.9 484.7 749.5 486.9 750 489 C750.5 491.1 751.7 493.6 752 494.5" fill="none" stroke="#111" stroke-width="1.6" />
<path d="M762.9 477.5 C762.7 478.9 762 483.1 761.5 486 C761 488.9 760.1 493.2 759.8 494.6" fill="none" stroke="#111" stroke-width="1.4" />
<path d="M786.5 408 C788.6 406.2 798.9 411.4 801 414.5 C803.1 417.6 800.4 422.9 799.4 426.9 C798.4 430.9 796.7 434.2 795 438.7 C793.3 443.1 790.7 448.7 789 453.6 C787.3 458.6 785.5 464 784.6 468.4 C783.7 472.8 784.6 478.2 783.5 480 C782.4 481.8 778.8 480.7 778 479 C777.2 477.3 778.1 473.2 778.7 470 C779.3 466.8 780.4 464.7 781.6 459.5 C782.8 454.3 784.9 444.4 786 438.7 C787.1 432.9 788.4 430.1 788.5 425 C788.6 419.9 784.4 409.8 786.5 408Z" fill="#fff" stroke="#111" stroke-width="1.8" />
<path d="M777.8 478.8 C776.5 479.4 776.8 481.6 776.8 483 C776.8 484.4 776.7 485.9 777.5 487 C778.3 488.1 780.3 489.8 781.6 489.8 C782.9 489.8 784.8 488.1 785.5 487 C786.2 485.9 786.1 484.2 786 483 C785.9 481.8 786 480.2 784.6 479.5 C783.2 478.8 779.1 478.2 777.8 478.8Z" fill="#fff" stroke="#111" stroke-width="1.7" />
<path d="M780 484 L780.5 489" fill="none" stroke="#111" stroke-width="1.2" />
<path d="M782.6 484 L783 489" fill="none" stroke="#111" stroke-width="1.2" />
<path d="M737.2 456 L733 464.5 L729.4 471.3 L740 472.6 L749.7 473.7 L753.5 466.7 L756.7 474.4 L767 473.8 L777 473 L776.2 466 L775.3 459Z" fill="#fff" stroke="#111" stroke-width="1.9" />
<path d="M754 405 C756.3 402.2 761.3 402.3 764 403 C766.7 403.7 766.3 408.2 770 409 C773.7 409.8 782.8 406 786 408 C789.2 410 789 415.9 789 421 C789 426.1 787.2 432.3 786 438.7 C784.8 445.1 782.6 455.4 781.6 459.5 C780.6 463.6 784.7 463.1 780 463 C775.3 462.9 760.8 460.2 753.4 459 C746 457.8 738.2 457 735.6 455.5 C733 454 736.5 453.2 738 450 C739.5 446.8 742.5 441 744.5 436 C746.5 431 748.4 425.2 750 420 C751.6 414.8 751.7 407.8 754 405Z" fill="#fff" stroke="#111" stroke-width="1.8" />
<path d="M735.6 453.6 L753.4 456.5 L780 461" fill="none" stroke="#111" stroke-width="1.8" />
<path d="M735 457.3 L753.4 461 L780 465.3" fill="none" stroke="#111" stroke-width="1.8" />
<path d="M752 455.6 L757.5 456.6 L757 462 L751.6 461Z" fill="#fff" stroke="#111" stroke-width="1.6" />
<path d="M769.5 410 C768.8 411.7 766.2 416.2 765 420 C763.8 423.8 762.3 428.6 762.3 432.8 C762.3 437 763.5 442.4 765 445 C766.5 447.6 768.7 448.6 771 448.5 C773.3 448.4 776.3 447.6 779 444.7 C781.7 441.8 785.2 435.8 787 431 C788.8 426.2 789.1 418.5 789.5 416" fill="none" stroke="#111" stroke-width="1.2" />
<path d="M769.2 410.5 C768.7 412.1 767.1 416.5 766.3 420 C765.5 423.5 764.4 428.2 764.5 431.8 C764.6 435.3 765.6 439.4 766.8 441.5 C768 443.6 769.8 444.4 771.7 444.3 C773.5 444.2 775.7 443.8 777.9 441.2 C780.1 438.6 783.1 432.9 784.8 428.9 C786.5 424.9 787.6 419 788.2 417" fill="none" stroke="#111" stroke-width="1.2" />
<path d="M768.9 411 C768.7 412.5 768 416.7 767.6 420 C767.3 423.3 766.6 427.7 766.7 430.7 C766.8 433.7 767.6 436.4 768.5 438 C769.5 439.6 770.9 440.2 772.3 440.1 C773.7 440.1 775.1 439.9 776.8 437.7 C778.5 435.5 780.9 430.1 782.6 426.8 C784.3 423.5 786.1 419.5 786.9 418" fill="none" stroke="#111" stroke-width="1.2" />
<path d="M753.6 406 C752.1 406 750.5 409.7 749 412 C747.5 414.3 746.7 415.6 744.5 420 C742.3 424.4 738.1 433.6 735.6 438.7 C733.1 443.8 731.8 447.5 729.7 450.6 C727.6 453.7 723.3 455.6 723 457.5 C722.7 459.4 725.7 462.4 728 462 C730.3 461.6 734.2 457.2 737 455 C739.8 452.8 742.5 451.7 744.5 449 C746.5 446.3 747.2 442.9 749 438.7 C750.8 434.5 753.5 428.4 755 424 C756.5 419.6 758.2 415 758 412 C757.8 409 755.1 406 753.6 406Z" fill="#fff" stroke="#111" stroke-width="1.8" />
<path d="M776.1 332 L768.3 356.1 L764 363.2" fill="none" stroke="#111" stroke-width="2.2" />
<path d="M775.5 336 L769.5 354" fill="none" stroke="#111" stroke-width="2.7" />
<ellipse cx="760.8" cy="364" rx="2" ry="2.2" fill="#fff" stroke="#111" stroke-width="1.6"/>
<path d="M760.6 366.2 C760 367.7 758.3 371 756.7 375 C755.1 379 753 385.2 751.2 390 C749.4 394.8 748 397.7 745.8 404 C743.6 410.3 740.5 421 738 428 C735.5 435 733.3 441 731 446 C728.7 451 725.2 456 724 458" fill="none" stroke="#111" stroke-width="1.9" />
<path d="M764 364 C763.2 366.3 760.7 373.1 759 378 C757.3 382.9 755.4 387.8 753.6 393.5 C751.8 399.2 749.9 405.6 748 412 C746.1 418.4 744 425.8 742 432 C740 438.2 737 446.2 736 449" fill="none" stroke="#111" stroke-width="1.8" />
<path d="M719 457.3 C719.7 456.3 721.1 456 722.5 456.1 C723.9 456.2 725.9 457.2 727.5 458 C729.1 458.8 731.5 459.5 732.4 460.6 C733.2 461.7 732.8 463.3 732.6 464.5 C732.4 465.7 732.4 467.2 731.3 467.7 C730.2 468.2 727.8 467.8 726 467.6 C724.2 467.4 721.7 467.5 720.4 466.6 C719.1 465.7 718.5 463.6 718.3 462 C718.1 460.4 718.3 458.3 719 457.3Z" fill="#fff" stroke="#111" stroke-width="1.8" />
<path d="M723.2 457.2 L722.3 466.5" fill="none" stroke="#111" stroke-width="1.3" />
<path d="M726.5 458.3 L725.6 467.1" fill="none" stroke="#111" stroke-width="1.3" />
<path d="M729.6 459.5 L728.9 467.7" fill="none" stroke="#111" stroke-width="1.3" />
<path d="M753.6 404.4 L763.7 402.6 L764.7 407 L754.3 408.6Z" fill="#fff" stroke="#111" stroke-width="1.7" />
<path d="M786.6 407 L801.3 413.5 L799.6 418 L785.6 411.6Z" fill="#fff" stroke="#111" stroke-width="1.7" />
<path d="M773 377 C771.6 377.7 772.4 379.4 771.5 380.2 C770.6 381 768.9 381.2 767.6 381.8 C766.3 382.4 764.4 383.2 763.6 384 C762.8 384.8 762.5 385.9 762.6 386.8 C762.7 387.7 763 388.7 764 389.2 C765 389.7 766.9 390 768.3 389.8 C769.7 389.6 771.8 387.6 772.4 388 C773 388.4 772 390.3 771.6 392 C771.2 393.7 770.2 396.3 769.9 398.1 C769.6 399.9 769.9 401.6 770 403 C770.1 404.4 770.1 405.1 770.7 406.5 C771.3 407.9 772.4 411 773.8 411.6 C775.2 412.2 777.4 411.3 779 410 C780.6 408.7 782.8 405.7 783.5 404 C784.2 402.3 783 401.8 783.1 400 C783.2 398.2 783.4 395.6 783.9 393.5 C784.4 391.4 785.6 389.8 786.2 387.2 C786.9 384.6 788.8 379.8 787.8 377.9 C786.8 376 782.5 376.1 780 376 C777.5 375.9 774.4 376.3 773 377Z" fill="#fff" stroke="#111" stroke-width="1.8" />
<path d="M782 386.5 C782.3 386.2 783.5 384.8 784 385 C784.5 385.2 785.1 386.8 785 387.5 C784.9 388.2 783.8 389.2 783.5 389.5" fill="none" stroke="#111" stroke-width="1.3" />
<path d="M771.8 380.6 L776 379.6" fill="none" stroke="#111" stroke-width="1.7" />
<path d="M765.2 408 L769.9 415 L773.6 411.4 L770.5 405.5Z" fill="#fff" stroke="#111" stroke-width="1.6" />
<path d="M773.8 411.6 L776.9 415.6 L785.7 407.5 L783.3 402Z" fill="#fff" stroke="#111" stroke-width="1.6" />
<path d="M770.7 370.9 C770.9 369.8 772.5 368.9 773.5 368 C774.5 367.1 775.8 366.4 776.9 365.5 C778 364.6 779.1 363.3 780 362.5 C780.9 361.7 781.5 360.6 782.4 360.8 C783.3 361 784.3 362.5 785.5 363.5 C786.7 364.5 788.2 366.2 789.4 367 C790.6 367.8 791.4 367.8 792.5 368.3 C793.6 368.8 795.3 369.4 795.8 370.1 C796.3 370.9 795.9 372 795.6 372.8 C795.3 373.6 794.8 374.2 794 374.8 C793.2 375.4 792 376.2 791 376.7 C790 377.2 789.5 377.7 787.8 377.9 C786.1 378.1 783.1 378.1 781 378 C778.9 377.9 776.9 377.6 775.4 377.1 C773.9 376.6 773 375.8 772.2 374.8 C771.4 373.8 770.5 372 770.7 370.9Z" fill="#fff" stroke="#111" stroke-width="1.9" />
<path d="M782.5 369.5 C782.1 369.5 780.8 369.1 780.3 369.4 C779.8 369.7 779.5 370.8 779.6 371.3 C779.8 371.9 780.9 372.5 781.2 372.7" fill="none" stroke="#111" stroke-width="1.4" />
<path d="M772.5 375 C773.6 374.8 776.8 373.7 779 373.6 C781.2 373.5 783.7 374.4 786 374.6 C788.3 374.8 791.8 374.9 793 375" fill="none" stroke="#111" stroke-width="1.2" />
<path d="M819.3 516.8 L817.6 533.8 L826 535.3 L827.6 519.3Z" fill="#fff" stroke="#111" stroke-width="1.8" />
<path d="M827.6 519.3 L827.6 536.7 L835.9 536.7 L837.5 516.8Z" fill="#fff" stroke="#111" stroke-width="1.8" />
<path d="M812.5 493.4 C806.7 494.9 811.5 499.6 811.7 502.4 C812 505.1 812.5 507.7 813.9 510 C815.2 512.2 817.3 514.4 819.6 515.8 C821.9 517.3 824.8 518.7 827.6 518.7 C830.4 518.8 834.1 517.5 836.5 516.3 C838.9 515.1 840.5 513.8 842 511.4 C843.6 509.1 844.9 505.4 845.7 502.4 C846.4 499.4 851.9 494.9 846.4 493.4 C840.9 491.9 818.3 491.9 812.5 493.4Z" fill="#fff" stroke="#111" stroke-width="1.9" />
<path d="M825.5 494.4 C825.4 495.7 824.7 499.9 824.7 502.4 C824.8 504.8 825.3 507 825.8 509 C826.3 511 827.3 513.5 827.6 514.4" fill="none" stroke="#111" stroke-width="1.6" />
<path d="M837.8 497.8 C837.6 499.2 836.9 503.3 836.5 506.1 C836 508.8 835.1 513.1 834.9 514.5" fill="none" stroke="#111" stroke-width="1.4" />
<path d="M859.7 430 C861.7 428.3 871.2 433.3 873.2 436.4 C875.2 439.4 872.6 444.5 871.7 448.4 C870.8 452.4 869.2 455.6 867.6 460 C866 464.3 863.7 469.7 862 474.5 C860.4 479.3 858.8 484.6 857.9 488.9 C857.1 493.2 857.9 498.5 856.9 500.2 C855.9 501.9 852.6 500.9 851.8 499.2 C851.1 497.6 851.9 493.6 852.5 490.5 C853 487.3 854 485.3 855.2 480.2 C856.3 475.1 858.2 465.6 859.2 460 C860.3 454.3 861.5 451.6 861.6 446.6 C861.7 441.6 857.8 431.7 859.7 430Z" fill="#fff" stroke="#111" stroke-width="1.8" />
<path d="M851.6 499.1 C850.4 499.6 850.7 501.8 850.7 503.1 C850.6 504.5 850.6 505.9 851.3 507 C852.1 508.2 853.9 509.8 855.2 509.8 C856.4 509.8 858.1 508.2 858.8 507 C859.5 505.9 859.4 504.4 859.2 503.1 C859.1 501.9 859.2 500.4 857.9 499.7 C856.7 499.1 852.8 498.5 851.6 499.1Z" fill="#fff" stroke="#111" stroke-width="1.7" />
<path d="M853.7 504.1 L854.1 509" fill="none" stroke="#111" stroke-width="1.2" />
<path d="M856.1 504.1 L856.5 509" fill="none" stroke="#111" stroke-width="1.2" />
<path d="M813.9 476.8 L810 485.1 L806.6 491.7 L816.5 493 L825.5 494.1 L829 487.3 L832 494.8 L841.6 494.2 L850.9 493.4 L850.1 486.6 L849.3 479.7Z" fill="#fff" stroke="#111" stroke-width="1.9" />
<path d="M829.5 427.1 C831.7 424.3 836.3 424.5 838.8 425.1 C841.3 425.8 841 430.2 844.4 431 C847.8 431.8 856.3 428.1 859.2 430 C862.2 432 862 437.7 862 442.7 C862 447.7 860.4 453.7 859.2 460 C858.1 466.2 856.1 476.3 855.2 480.2 C854.2 484.2 858 483.7 853.7 483.6 C849.3 483.6 835.8 481 828.9 479.7 C822 478.5 814.8 477.8 812.4 476.3 C810 474.9 813.2 474.1 814.6 471 C816 467.8 818.8 462.2 820.7 457.3 C822.5 452.4 824.3 446.8 825.8 441.7 C827.2 436.7 827.3 429.9 829.5 427.1Z" fill="#fff" stroke="#111" stroke-width="1.8" />
<path d="M812.4 474.5 L828.9 477.3 L853.7 481.7" fill="none" stroke="#111" stroke-width="1.8" />
<path d="M811.8 478.1 L828.9 481.7 L853.7 485.9" fill="none" stroke="#111" stroke-width="1.8" />
<path d="M827.6 476.4 L832.7 477.4 L832.3 482.7 L827.3 481.7Z" fill="#fff" stroke="#111" stroke-width="1.6" />
<path d="M843.9 432 C843.2 433.6 840.8 438 839.7 441.7 C838.6 445.4 837.2 450.1 837.2 454.2 C837.2 458.3 838.4 463.5 839.7 466.1 C841.1 468.6 843.1 469.6 845.3 469.5 C847.5 469.5 850.3 468.6 852.7 465.8 C855.2 463 858.6 457.1 860.2 452.4 C861.8 447.8 862.1 440.3 862.5 437.8" fill="none" stroke="#111" stroke-width="1.2" />
<path d="M843.6 432.5 C843.2 434 841.7 438.3 840.9 441.7 C840.2 445.2 839.2 449.7 839.3 453.2 C839.3 456.7 840.2 460.6 841.4 462.7 C842.5 464.7 844.2 465.5 845.9 465.4 C847.6 465.4 849.7 464.9 851.7 462.4 C853.8 459.9 856.5 454.3 858.1 450.4 C859.7 446.5 860.8 440.7 861.3 438.8" fill="none" stroke="#111" stroke-width="1.2" />
<path d="M843.3 432.9 C843.2 434.4 842.5 438.5 842.2 441.7 C841.8 444.9 841.2 449.2 841.3 452.2 C841.4 455.1 842.1 457.7 843 459.3 C843.9 460.8 845.2 461.4 846.5 461.3 C847.8 461.3 849.1 461.1 850.7 459 C852.3 456.8 854.5 451.6 856.1 448.3 C857.6 445.1 859.4 441.2 860 439.8" fill="none" stroke="#111" stroke-width="1.2" />
<path d="M829.1 428.1 C827.7 428.1 825.9 431.8 824.3 434.1 C822.7 436.5 821.9 437.7 819.4 442.1 C816.9 446.6 812.1 455.8 809.4 461 C806.6 466.1 805 469.8 802.8 472.9 C800.6 476.1 796.5 477.9 796.2 479.8 C795.8 481.7 798.6 484.6 800.8 484.2 C803 483.8 806.5 479.5 809.2 477.3 C811.8 475.2 814.6 474 816.7 471.3 C818.8 468.6 819.8 465.1 821.8 461 C823.8 456.8 827 450.6 828.8 446.2 C830.6 441.7 832.6 437.1 832.7 434.1 C832.7 431.1 830.5 428.1 829.1 428.1Z" fill="#fff" stroke="#111" stroke-width="1.8" />
<path d="M845.5 355.9 L838.3 379.6 L834.3 386.6" fill="none" stroke="#111" stroke-width="2.2" />
<path d="M845 359.8 L839.4 377.6" fill="none" stroke="#111" stroke-width="2.7" />
<ellipse cx="831.3" cy="387.4" rx="2" ry="2.2" fill="#fff" stroke="#111" stroke-width="1.6"/>
<path d="M831.1 389.6 C830.5 391.1 829 394.4 827.5 398.3 C826 402.2 824.1 408.3 822.4 413.1 C820.7 417.9 819.4 420.7 817.4 427 C815.3 433.2 812.4 443.8 810.1 450.7 C807.8 457.6 805.8 463.5 803.6 468.5 C801.4 473.4 798.2 478.3 797.1 480.3" fill="none" stroke="#111" stroke-width="1.9" />
<path d="M834.3 387.4 C833.5 389.7 831.3 396.4 829.6 401.3 C828 406.1 826.3 411 824.6 416.6 C822.9 422.2 821.2 428.5 819.4 434.9 C817.6 441.2 815.7 448.5 813.8 454.6 C812 460.7 809.2 468.6 808.2 471.4" fill="none" stroke="#111" stroke-width="1.8" />
<path d="M792.4 479.6 C793.1 478.6 794.4 478.3 795.7 478.4 C797 478.5 798.8 479.5 800.3 480.3 C801.9 481 804.1 481.7 804.9 482.8 C805.7 483.9 805.3 485.5 805.1 486.6 C804.9 487.8 804.9 489.2 803.9 489.7 C802.9 490.2 800.6 489.8 799 489.6 C797.3 489.5 794.9 489.6 793.7 488.7 C792.5 487.7 792 485.7 791.8 484.2 C791.6 482.7 791.8 480.5 792.4 479.6Z" fill="#fff" stroke="#111" stroke-width="1.8" />
<path d="M796.3 479.5 L795.5 488.6" fill="none" stroke="#111" stroke-width="1.3" />
<path d="M799.4 480.6 L798.6 489.1" fill="none" stroke="#111" stroke-width="1.3" />
<path d="M802.3 481.7 L801.6 489.7" fill="none" stroke="#111" stroke-width="1.3" />
<path d="M829.1 426.5 L838.5 424.8 L839.4 429 L829.8 430.6Z" fill="#fff" stroke="#111" stroke-width="1.7" />
<path d="M859.8 429 L873.5 435.4 L871.9 439.8 L858.9 433.5Z" fill="#fff" stroke="#111" stroke-width="1.7" />
<path d="M847.2 399.8 C845.8 400.5 846.6 402.1 845.8 402.9 C844.9 403.7 843.4 403.9 842.1 404.5 C840.9 405.1 839.2 405.8 838.4 406.6 C837.6 407.4 837.4 408.5 837.5 409.4 C837.6 410.2 837.9 411.2 838.8 411.7 C839.7 412.2 841.5 412.5 842.8 412.3 C844.1 412.1 846.1 410.2 846.6 410.5 C847.1 410.9 846.2 412.8 845.9 414.4 C845.5 416.1 844.5 418.6 844.3 420.4 C844 422.2 844.2 423.8 844.4 425.1 C844.5 426.5 844.4 427.2 845 428.6 C845.6 430 846.6 433 847.9 433.5 C849.2 434.1 851.2 433.2 852.7 432 C854.2 430.7 856.3 427.7 856.9 426.1 C857.6 424.5 856.5 423.9 856.6 422.2 C856.6 420.5 856.8 418 857.3 415.9 C857.8 413.8 858.8 412.3 859.4 409.7 C860 407.2 861.9 402.5 860.9 400.7 C860 398.9 856 399 853.7 398.8 C851.4 398.7 848.5 399.1 847.2 399.8Z" fill="#fff" stroke="#111" stroke-width="1.8" />
<path d="M855.5 409.1 C855.8 408.8 856.9 407.4 857.4 407.6 C857.9 407.8 858.4 409.3 858.3 410 C858.2 410.8 857.2 411.7 856.9 412" fill="none" stroke="#111" stroke-width="1.3" />
<path d="M846 403.3 L850 402.3" fill="none" stroke="#111" stroke-width="1.7" />
<path d="M839.9 430 L844.3 436.8 L847.7 433.3 L844.8 427.6Z" fill="#fff" stroke="#111" stroke-width="1.6" />
<path d="M847.9 433.5 L850.8 437.4 L859 429.5 L856.7 424.2Z" fill="#fff" stroke="#111" stroke-width="1.6" />
<path d="M845 393.8 C845.2 392.7 846.7 391.9 847.6 391 C848.6 390.1 849.8 389.5 850.8 388.6 C851.8 387.7 852.8 386.4 853.7 385.7 C854.5 384.9 855 383.8 855.9 384 C856.8 384.2 857.7 385.6 858.8 386.6 C859.9 387.6 861.3 389.3 862.4 390 C863.5 390.8 864.3 390.8 865.3 391.3 C866.3 391.8 867.9 392.3 868.4 393.1 C868.8 393.8 868.5 394.9 868.2 395.7 C867.9 396.5 867.4 397 866.7 397.6 C866 398.3 864.9 399 863.9 399.5 C862.9 400 862.5 400.5 860.9 400.7 C859.4 400.9 856.5 400.9 854.6 400.8 C852.7 400.6 850.8 400.4 849.4 399.9 C848 399.4 847.1 398.7 846.4 397.6 C845.7 396.6 844.8 395 845 393.8Z" fill="#fff" stroke="#111" stroke-width="1.9" />
<path d="M856 392.5 C855.7 392.5 854.4 392.1 853.9 392.4 C853.5 392.7 853.2 393.7 853.3 394.2 C853.4 394.8 854.5 395.4 854.8 395.6" fill="none" stroke="#111" stroke-width="1.4" />
<path d="M846.7 397.8 C847.7 397.6 850.6 396.5 852.7 396.5 C854.8 396.4 857.1 397.2 859.2 397.5 C861.4 397.7 864.7 397.8 865.8 397.8" fill="none" stroke="#111" stroke-width="1.2" />
<path d="M885.6 542.2 L883.7 563.1 L893.4 564.7 L895.4 544.8Z" fill="#fff" stroke="#111" stroke-width="1.8" />
<path d="M895.4 544.8 L895.4 566.1 L905.1 566.1 L906.9 542.2Z" fill="#fff" stroke="#111" stroke-width="1.8" />
<path d="M880.7 518.2 C875.1 519.7 879.8 524.6 880 527.4 C880.2 530.2 880.8 532.9 882.1 535.2 C883.4 537.5 885.4 539.7 887.7 541.2 C889.9 542.7 892.7 544.1 895.4 544.2 C898.1 544.3 901.6 543 904 541.7 C906.3 540.5 907.9 539.1 909.4 536.7 C910.8 534.3 912.2 530.5 912.9 527.4 C913.6 524.3 918.9 519.7 913.6 518.2 C908.2 516.7 886.3 516.7 880.7 518.2Z" fill="#fff" stroke="#111" stroke-width="1.9" />
<path d="M893.3 519.2 C893.2 520.6 892.6 524.9 892.6 527.4 C892.7 529.9 893.1 532.2 893.6 534.2 C894.1 536.2 895.1 538.8 895.4 539.7" fill="none" stroke="#111" stroke-width="1.6" />
<path d="M905.2 522.7 C905 524.1 904.4 528.4 904 531.2 C903.5 534.1 902.7 538.4 902.4 539.8" fill="none" stroke="#111" stroke-width="1.4" />
<path d="M926.5 453.2 C928.3 451.4 937.6 456.6 939.5 459.7 C941.4 462.8 939 468.1 938.1 472.1 C937.2 476.1 935.7 479.4 934.1 483.9 C932.5 488.3 930.3 493.9 928.7 498.8 C927.1 503.8 925.6 509.2 924.7 513.6 C923.9 518 924.7 523.4 923.8 525.2 C922.8 527 919.5 525.9 918.8 524.2 C918.1 522.5 918.9 518.5 919.4 515.2 C920 512 920.9 509.9 922 504.7 C923.1 499.5 925 489.6 926 483.9 C927 478.1 928.2 475.3 928.2 470.2 C928.3 465.1 924.6 454.9 926.5 453.2Z" fill="#fff" stroke="#111" stroke-width="1.8" />
<path d="M918.6 524 C917.5 524.6 917.8 526.8 917.7 528.2 C917.7 529.6 917.6 531.1 918.4 532.2 C919.1 533.3 920.8 535 922 535 C923.2 535 924.9 533.3 925.5 532.2 C926.2 531.1 926.1 529.5 926 528.2 C925.9 527 926 525.4 924.7 524.7 C923.5 524 919.8 523.4 918.6 524Z" fill="#fff" stroke="#111" stroke-width="1.7" />
<path d="M920.6 529.2 L921 534.2" fill="none" stroke="#111" stroke-width="1.2" />
<path d="M922.9 529.2 L923.3 534.2" fill="none" stroke="#111" stroke-width="1.2" />
<path d="M882.1 501.2 L878.3 509.7 L875.1 516.5 L884.6 517.8 L893.3 518.9 L896.8 511.9 L899.6 519.6 L908.9 519 L917.9 518.2 L917.2 511.2 L916.4 504.2Z" fill="#fff" stroke="#111" stroke-width="1.9" />
<path d="M897.2 450.2 C899.3 447.4 903.8 447.5 906.2 448.2 C908.6 448.9 908.3 453.4 911.6 454.2 C914.9 455 923.1 451.2 926 453.2 C928.9 455.2 928.7 461.1 928.7 466.2 C928.7 471.3 927.1 477.5 926 483.9 C924.9 490.3 922.9 500.6 922 504.7 C921.1 508.8 924.8 508.3 920.6 508.2 C916.4 508.1 903.3 505.4 896.7 504.2 C890 502.9 883 502.2 880.6 500.7 C878.3 499.2 881.5 498.4 882.8 495.2 C884.1 491.9 886.8 486.2 888.6 481.2 C890.5 476.2 892.2 470.4 893.6 465.2 C895 460 895.1 453 897.2 450.2Z" fill="#fff" stroke="#111" stroke-width="1.8" />
<path d="M880.6 498.8 L896.7 501.7 L920.6 506.2" fill="none" stroke="#111" stroke-width="1.8" />
<path d="M880.1 502.5 L896.7 506.2 L920.6 510.5" fill="none" stroke="#111" stroke-width="1.8" />
<path d="M895.4 500.8 L900.4 501.8 L899.9 507.2 L895 506.2Z" fill="#fff" stroke="#111" stroke-width="1.6" />
<path d="M911.1 455.2 C910.5 456.9 908.2 461.4 907.1 465.2 C906 469 904.7 473.8 904.7 478 C904.7 482.2 905.8 487.6 907.1 490.2 C908.4 492.8 910.4 493.8 912.5 493.7 C914.6 493.6 917.3 492.8 919.7 489.9 C922.1 487 925.3 481 926.9 476.2 C928.5 471.4 928.8 463.7 929.1 461.2" fill="none" stroke="#111" stroke-width="1.2" />
<path d="M910.9 455.7 C910.4 457.3 909 461.7 908.3 465.2 C907.6 468.7 906.6 473.4 906.6 476.9 C906.7 480.5 907.6 484.6 908.7 486.7 C909.8 488.8 911.4 489.6 913.1 489.5 C914.8 489.4 916.7 489 918.7 486.4 C920.7 483.8 923.4 478.1 924.9 474.1 C926.5 470.1 927.5 464.2 928 462.2" fill="none" stroke="#111" stroke-width="1.2" />
<path d="M910.6 456.2 C910.4 457.7 909.8 461.9 909.5 465.2 C909.1 468.5 908.5 472.9 908.6 475.9 C908.8 478.9 909.4 481.6 910.3 483.2 C911.1 484.8 912.4 485.4 913.7 485.3 C914.9 485.2 916.2 485.1 917.7 482.9 C919.3 480.7 921.4 475.3 922.9 472 C924.4 468.7 926.1 464.7 926.8 463.2" fill="none" stroke="#111" stroke-width="1.2" />
<path d="M896.8 451.2 C895.5 451.2 893.7 455.2 892.1 457.8 C890.6 460.4 889.8 461.7 887.4 466.6 C884.9 471.5 880.3 481.6 877.6 487.2 C874.9 492.9 873.4 496.9 871.2 500.4 C869.1 503.8 865.1 505.7 864.8 507.7 C864.5 509.7 867.2 512.6 869.3 512.2 C871.4 511.8 874.8 507.5 877.4 505.2 C880 502.9 882.7 501.6 884.7 498.6 C886.8 495.6 887.7 491.8 889.7 487.2 C891.7 482.6 894.7 475.9 896.4 471 C898.2 466.1 900.2 461.1 900.2 457.8 C900.3 454.5 898.2 451.2 896.8 451.2Z" fill="#fff" stroke="#111" stroke-width="1.8" />
<path d="M912.6 377.2 L905.6 402 L901.7 409.4" fill="none" stroke="#111" stroke-width="2.2" />
<path d="M912 381.2 L906.6 399.8" fill="none" stroke="#111" stroke-width="2.7" />
<ellipse cx="898.8" cy="410.2" rx="2" ry="2.2" fill="#fff" stroke="#111" stroke-width="1.6"/>
<path d="M898.6 412.5 C898.1 414.1 896.5 417.6 895.1 421.7 C893.7 425.9 891.8 432.3 890.2 437.4 C888.5 442.4 887.3 445.4 885.3 452 C883.3 458.6 880.5 469.7 878.3 477 C876.1 484.3 874.1 490.6 872 495.8 C869.9 501 866.8 506.1 865.7 508.2" fill="none" stroke="#111" stroke-width="1.9" />
<path d="M901.7 410.2 C901 412.7 898.8 419.7 897.2 424.9 C895.6 430 894 435.1 892.3 441 C890.7 446.9 889 453.6 887.3 460.3 C885.6 467 883.7 474.8 881.9 481.2 C880.1 487.6 877.4 496 876.5 498.9" fill="none" stroke="#111" stroke-width="1.8" />
<path d="M861.2 507.5 C861.8 506.5 863.1 506.2 864.4 506.3 C865.6 506.4 867.4 507.4 868.9 508.2 C870.3 508.9 872.5 509.7 873.3 510.8 C874 511.9 873.6 513.5 873.4 514.7 C873.3 515.9 873.3 517.4 872.3 517.9 C871.3 518.4 869.1 518 867.5 517.8 C865.9 517.6 863.6 517.7 862.5 516.8 C861.3 515.9 860.8 513.8 860.6 512.2 C860.4 510.7 860.6 508.5 861.2 507.5Z" fill="#fff" stroke="#111" stroke-width="1.8" />
<path d="M865 507.4 L864.2 516.7" fill="none" stroke="#111" stroke-width="1.3" />
<path d="M868 508.5 L867.1 517.3" fill="none" stroke="#111" stroke-width="1.3" />
<path d="M870.7 509.7 L870.1 517.9" fill="none" stroke="#111" stroke-width="1.3" />
<path d="M896.8 449.6 L905.9 447.8 L906.8 452.2 L897.5 453.8Z" fill="#fff" stroke="#111" stroke-width="1.7" />
<path d="M926.5 452.2 L939.8 458.7 L938.2 463.2 L925.6 456.8Z" fill="#fff" stroke="#111" stroke-width="1.7" />
<path d="M914.3 422.2 C913 422.9 913.8 424.6 913 425.4 C912.1 426.2 910.6 426.4 909.4 427 C908.3 427.6 906.6 428.4 905.8 429.2 C905.1 430 904.9 431.1 904.9 432 C905 432.9 905.3 433.9 906.2 434.4 C907.1 434.9 908.8 435.2 910.1 435 C911.3 434.8 913.3 432.8 913.8 433.2 C914.3 433.6 913.4 435.5 913 437.2 C912.7 438.9 911.8 441.5 911.5 443.3 C911.3 445.1 911.5 446.8 911.6 448.2 C911.7 449.6 911.7 450.3 912.2 451.7 C912.8 453.1 913.8 456.2 915 456.8 C916.3 457.4 918.2 456.5 919.7 455.2 C921.2 453.9 923.1 450.9 923.8 449.2 C924.4 447.5 923.3 446.9 923.4 445.2 C923.5 443.4 923.6 440.8 924.1 438.7 C924.6 436.6 925.6 435 926.2 432.4 C926.8 429.8 928.5 425 927.6 423.1 C926.7 421.2 922.8 421.3 920.6 421.2 C918.4 421.1 915.6 421.5 914.3 422.2Z" fill="#fff" stroke="#111" stroke-width="1.8" />
<path d="M922.4 431.7 C922.7 431.4 923.8 430 924.2 430.2 C924.7 430.4 925.2 431.9 925.1 432.7 C925 433.4 924 434.4 923.8 434.7" fill="none" stroke="#111" stroke-width="1.3" />
<path d="M913.2 425.8 L917 424.8" fill="none" stroke="#111" stroke-width="1.7" />
<path d="M907.3 453.2 L911.5 460.2 L914.8 456.6 L912 450.7Z" fill="#fff" stroke="#111" stroke-width="1.6" />
<path d="M915 456.8 L917.8 460.8 L925.7 452.7 L923.6 447.2Z" fill="#fff" stroke="#111" stroke-width="1.6" />
<path d="M912.2 416.1 C912.4 415 913.8 414.1 914.8 413.2 C915.7 412.3 916.8 411.6 917.8 410.7 C918.8 409.8 919.8 408.5 920.6 407.7 C921.4 406.9 921.9 405.8 922.8 406 C923.6 406.2 924.5 407.7 925.5 408.7 C926.6 409.7 928 411.4 929.1 412.2 C930.1 413 930.9 413 931.9 413.5 C932.8 414 934.4 414.6 934.8 415.3 C935.3 416.1 934.9 417.2 934.6 418 C934.4 418.8 933.9 419.4 933.2 420 C932.5 420.6 931.4 421.4 930.5 421.9 C929.6 422.4 929.1 422.9 927.6 423.1 C926.1 423.3 923.4 423.3 921.5 423.2 C919.6 423.1 917.8 422.8 916.5 422.3 C915.1 421.8 914.3 421 913.6 420 C912.9 419 912 417.2 912.2 416.1Z" fill="#fff" stroke="#111" stroke-width="1.9" />
<path d="M922.9 414.7 C922.5 414.7 921.3 414.3 920.9 414.6 C920.4 414.9 920.1 415.9 920.2 416.5 C920.4 417.1 921.4 417.7 921.7 417.9" fill="none" stroke="#111" stroke-width="1.4" />
<path d="M913.9 420.2 C914.8 420 917.7 418.9 919.7 418.8 C921.7 418.7 923.9 419.6 926 419.8 C928.1 420 931.2 420.1 932.3 420.2" fill="none" stroke="#111" stroke-width="1.2" />
<path d="M739 505 C737.7 505.2 732.8 505.6 731 506.5 C729.2 507.4 727.8 509.3 728 510.5 C728.2 511.7 731.3 513 732 513.5" fill="none" stroke="#111" stroke-width="1.2" />
<path d="M742 508.5 C741.2 508.9 737.7 510 737 511 C736.3 512 737.8 513.9 738 514.5" fill="none" stroke="#111" stroke-width="1.1" />
<path d="M746 512.5 C745.7 512.8 744.1 513.8 744 514.5 C743.9 515.2 745.2 516.2 745.5 516.5" fill="none" stroke="#111" stroke-width="1" />
<path d="M762 510 C763.3 510.1 767.8 509.8 770 510.5 C772.2 511.2 774.3 513.2 775 514.5 C775.7 515.8 774.2 517.8 774 518.5" fill="none" stroke="#111" stroke-width="1.2" />
<path d="M761 514.5 C762 514.8 765.7 515.2 767 516 C768.3 516.8 769.2 518.5 769 519.5 C768.8 520.5 766.1 521.6 765.5 522" fill="none" stroke="#111" stroke-width="1.1" />
<path d="M757 519 C757.6 519.2 760 519.8 760.5 520.5 C761 521.2 760.1 522.6 760 523" fill="none" stroke="#111" stroke-width="1" />
<path d="M812.5 525 C811.2 525.2 806.3 525.6 804.5 526.5 C802.7 527.4 801.3 529.3 801.5 530.5 C801.7 531.7 804.8 533 805.5 533.5" fill="none" stroke="#111" stroke-width="1.2" />
<path d="M815.5 528.5 C814.7 528.9 811.2 530 810.5 531 C809.8 532 811.3 533.9 811.5 534.5" fill="none" stroke="#111" stroke-width="1.1" />
<path d="M819.5 532.5 C819.2 532.8 817.6 533.8 817.5 534.5 C817.4 535.2 818.8 536.2 819 536.5" fill="none" stroke="#111" stroke-width="1" />
<path d="M835.5 530 C836.8 530.1 841.3 529.8 843.5 530.5 C845.7 531.2 847.8 533.2 848.5 534.5 C849.2 535.8 847.7 537.8 847.5 538.5" fill="none" stroke="#111" stroke-width="1.2" />
<path d="M834.5 534.5 C835.5 534.8 839.2 535.2 840.5 536 C841.8 536.8 842.8 538.5 842.5 539.5 C842.2 540.5 839.6 541.6 839 542" fill="none" stroke="#111" stroke-width="1.1" />
<path d="M830.5 539 C831.1 539.2 833.5 539.8 834 540.5 C834.5 541.2 833.6 542.6 833.5 543" fill="none" stroke="#111" stroke-width="1" />
<path d="M882 552 C880.7 552.2 875.8 552.6 874 553.5 C872.2 554.4 870.8 556.3 871 557.5 C871.2 558.7 874.3 560 875 560.5" fill="none" stroke="#111" stroke-width="1.2" />
<path d="M885 555.5 C884.2 555.9 880.7 557 880 558 C879.3 559 880.8 560.9 881 561.5" fill="none" stroke="#111" stroke-width="1.1" />
<path d="M889 559.5 C888.7 559.8 887.1 560.8 887 561.5 C886.9 562.2 888.2 563.2 888.5 563.5" fill="none" stroke="#111" stroke-width="1" />
<path d="M905 557 C906.3 557.1 910.8 556.8 913 557.5 C915.2 558.2 917.3 560.2 918 561.5 C918.7 562.8 917.2 564.8 917 565.5" fill="none" stroke="#111" stroke-width="1.2" />
<path d="M904 561.5 C905 561.8 908.7 562.2 910 563 C911.3 563.8 912.2 565.5 912 566.5 C911.8 567.5 909.1 568.6 908.5 569" fill="none" stroke="#111" stroke-width="1.1" />
<path d="M900 566 C900.6 566.2 903 566.8 903.5 567.5 C904 568.2 903.1 569.6 903 570" fill="none" stroke="#111" stroke-width="1" />
</svg>
<div class="sig">a.dubovskyi</div>
</body></html>
